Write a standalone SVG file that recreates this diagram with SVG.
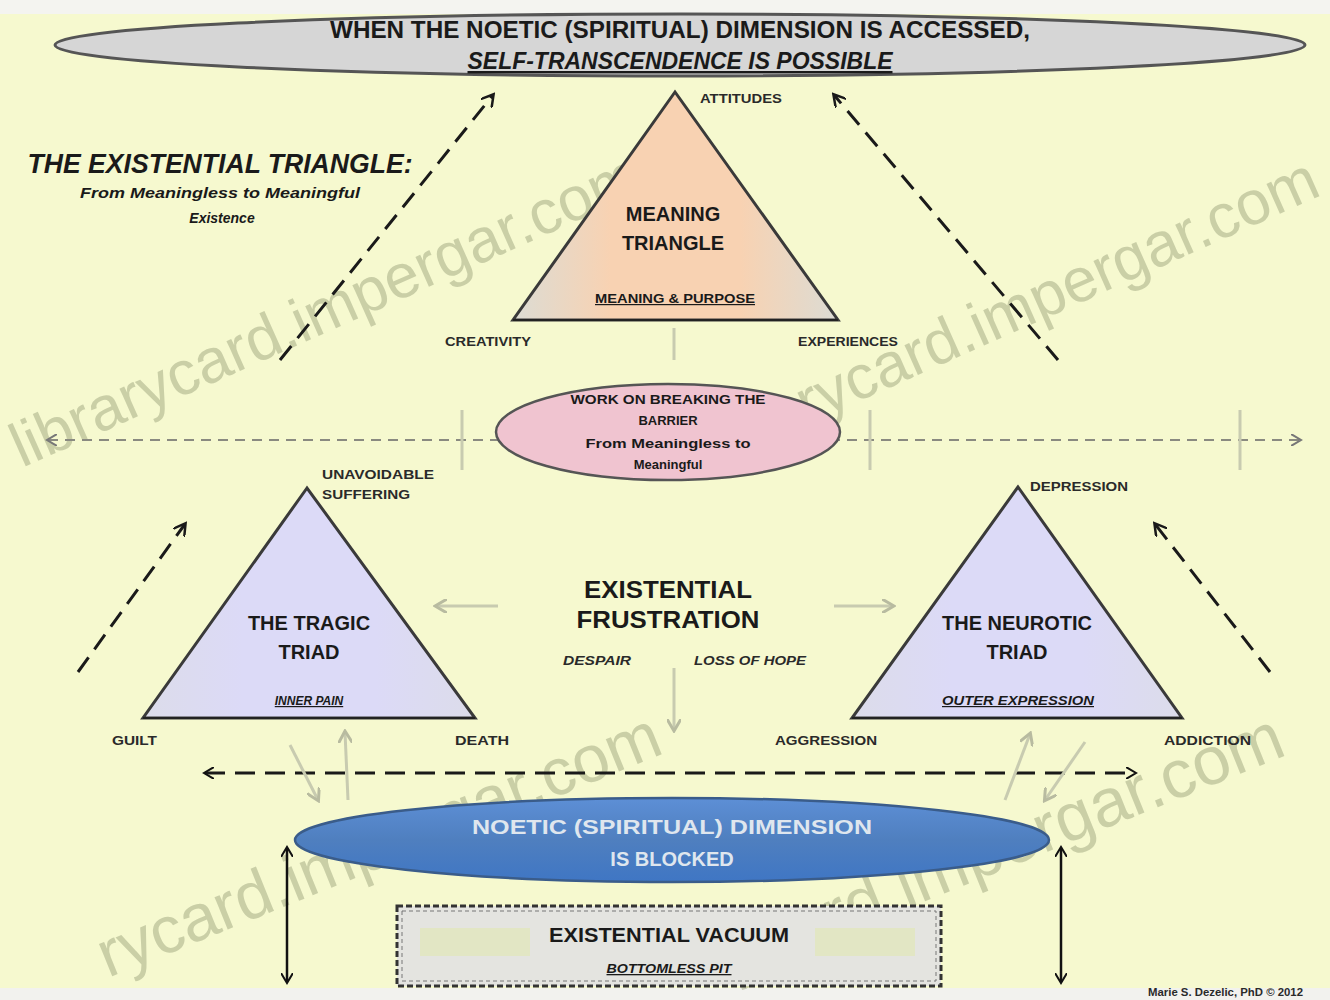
<svg xmlns="http://www.w3.org/2000/svg" width="1330" height="1000" viewBox="0 0 1330 1000">
<style>
.t{font-family:"Liberation Sans Narrow","Liberation Sans",Arial,sans-serif;font-weight:bold;fill:#1a1a1a;text-anchor:middle}
.lab{font-family:"Liberation Sans Narrow","Liberation Sans",Arial,sans-serif;font-weight:bold;font-size:13px;fill:#2a2a2a}
.tri{stroke:#3a3a3a;stroke-width:3;stroke-linejoin:miter}
.dash{stroke:#1a1a1a;stroke-width:3;stroke-dasharray:18 10;fill:none}
.light{stroke:#c8cbb0;stroke-width:3;fill:none}
.wm{font-family:"Liberation Sans",Arial,sans-serif;font-size:62px;fill:#8e9670;opacity:0.42}
</style>
<defs>
<marker id="ahb" markerWidth="14" markerHeight="14" refX="11" refY="7" orient="auto-start-reverse" markerUnits="userSpaceOnUse"><path d="M0,0 L12,7 L0,14" fill="none" stroke="#1a1a1a" stroke-width="2.5"/></marker>
<marker id="ahg" markerWidth="12" markerHeight="12" refX="9" refY="6" orient="auto-start-reverse" markerUnits="userSpaceOnUse"><path d="M0,0 L10,6 L0,12" fill="none" stroke="#777" stroke-width="2"/></marker>
<marker id="ahl" markerWidth="14" markerHeight="14" refX="11" refY="7" orient="auto" markerUnits="userSpaceOnUse"><path d="M0,0 L12,7 L0,14" fill="none" stroke="#b8bba0" stroke-width="3"/></marker>
<marker id="ahk" markerWidth="12" markerHeight="12" refX="9" refY="6" orient="auto-start-reverse" markerUnits="userSpaceOnUse"><path d="M0,0 L10,6 L0,12" fill="none" stroke="#111" stroke-width="2"/></marker>
<linearGradient id="peach" x1="0" y1="0" x2="1" y2="0"><stop offset="0" stop-color="#dcdcd4"/><stop offset="0.3" stop-color="#f8d2b2"/><stop offset="0.7" stop-color="#f8d2b2"/><stop offset="1" stop-color="#dcdcd4"/></linearGradient>
<linearGradient id="lav" x1="0" y1="0" x2="1" y2="0"><stop offset="0" stop-color="#dcdcea"/><stop offset="0.3" stop-color="#dcdaf7"/><stop offset="0.7" stop-color="#dcdaf7"/><stop offset="1" stop-color="#dcdcea"/></linearGradient>
<linearGradient id="blue" x1="0" y1="0" x2="0" y2="1"><stop offset="0" stop-color="#5d8fd6"/><stop offset="0.5" stop-color="#4f7fbf"/><stop offset="1" stop-color="#3f76c4"/></linearGradient>
</defs>
<rect width="1330" height="1000" fill="#f6f9cf"/>
<rect width="1330" height="14" fill="#f4f4f0"/>
<rect y="988" width="1330" height="12" fill="#f2f2ee"/>

<g id="watermarks">
<text class="wm" transform="translate(22,468) rotate(-24)">librarycard.impergar.com</text>
<text class="wm" transform="translate(700,472) rotate(-24)">librarycard.impergar.com</text>
<text class="wm" style="font-size:66px" transform="translate(108,978) rotate(-22)">rycard.impergar.com</text>
<text class="wm" style="font-size:68px" transform="translate(735,978) rotate(-22)">ycard.impergar.com</text>
</g>

<g id="connectors">
<line class="dash" x1="280" y1="360" x2="493" y2="95" marker-end="url(#ahb)"/>
<line class="dash" x1="1058" y1="360" x2="834" y2="95" marker-end="url(#ahb)"/>
<line class="dash" x1="78" y1="672" x2="185" y2="524" marker-end="url(#ahb)"/>
<line class="dash" x1="1270" y1="672" x2="1155" y2="524" marker-end="url(#ahb)"/>
<line x1="48" y1="440" x2="1300" y2="440" stroke="#8a8a80" stroke-width="2" stroke-dasharray="10 7" marker-start="url(#ahg)" marker-end="url(#ahg)"/>
<line x1="205" y1="773" x2="1135" y2="773" stroke="#1a1a1a" stroke-width="3" stroke-dasharray="20 10" marker-start="url(#ahk)" marker-end="url(#ahk)"/>
<line class="light" x1="674" y1="360" x2="674" y2="328"/>
<line class="light" x1="462" y1="470" x2="462" y2="410"/>
<line class="light" x1="870" y1="470" x2="870" y2="410"/>
<line class="light" x1="1240" y1="470" x2="1240" y2="410"/>
<line class="light" x1="498" y1="606" x2="436" y2="606" marker-end="url(#ahl)"/>
<line class="light" x1="834" y1="606" x2="893" y2="606" marker-end="url(#ahl)"/>
<line class="light" x1="674" y1="668" x2="674" y2="730" marker-end="url(#ahl)"/>
<line class="light" x1="290" y1="745" x2="318" y2="800" marker-end="url(#ahl)"/>
<line class="light" x1="348" y1="800" x2="345" y2="732" marker-end="url(#ahl)"/>
<line class="light" x1="1005" y1="800" x2="1030" y2="734" marker-end="url(#ahl)"/>
<line class="light" x1="1085" y1="742" x2="1045" y2="800" marker-end="url(#ahl)"/>
<line x1="287" y1="848" x2="287" y2="982" stroke="#111" stroke-width="2.5" marker-start="url(#ahk)" marker-end="url(#ahk)"/>
<line x1="1061" y1="848" x2="1061" y2="982" stroke="#111" stroke-width="2.5" marker-start="url(#ahk)" marker-end="url(#ahk)"/>
</g>

<g id="top-ellipse">
<ellipse cx="680" cy="45" rx="625" ry="31" fill="#d6d6d6" stroke="#555" stroke-width="3"/>
<text class="t" x="680" y="38" font-size="24" textLength="700" lengthAdjust="spacingAndGlyphs">WHEN THE NOETIC (SPIRITUAL) DIMENSION IS ACCESSED,</text>
<text class="t" x="680" y="69" font-size="24" font-style="italic" text-decoration="underline" textLength="425" lengthAdjust="spacingAndGlyphs">SELF-TRANSCENDENCE IS POSSIBLE</text>
</g>

<g id="title">
<text class="t" x="220" y="173" font-size="27" font-style="italic" textLength="385" lengthAdjust="spacingAndGlyphs">THE EXISTENTIAL TRIANGLE:</text>
<text class="t" x="220" y="198" font-size="14" font-style="italic" textLength="280" lengthAdjust="spacingAndGlyphs">From Meaningless to Meaningful</text>
<text class="t" x="222" y="223" font-size="14" font-style="italic">Existence</text>
</g>

<g id="meaning-triangle">
<polygon class="tri" points="675,92 513,320 838,320" fill="url(#peach)"/>
<line x1="513" y1="320" x2="838" y2="320" stroke="#222" stroke-width="2"/>
<text class="t" x="673" y="221" font-size="20">MEANING</text>
<text class="t" x="673" y="250" font-size="20">TRIANGLE</text>
<text class="t" x="675" y="303" font-size="12" text-decoration="underline" textLength="160" lengthAdjust="spacingAndGlyphs">MEANING &amp; PURPOSE</text>
<text class="lab" x="700" y="103" textLength="82" lengthAdjust="spacingAndGlyphs">ATTITUDES</text>
<text class="lab" x="445" y="346" textLength="86" lengthAdjust="spacingAndGlyphs">CREATIVITY</text>
<text class="lab" x="798" y="346" textLength="100" lengthAdjust="spacingAndGlyphs">EXPERIENCES</text>
</g>

<g id="barrier">
<ellipse cx="668" cy="432" rx="172" ry="48" fill="#f0c4d0" stroke="#555" stroke-width="2.5"/>
<text class="t" x="668" y="404" font-size="13" textLength="195" lengthAdjust="spacingAndGlyphs">WORK ON BREAKING THE</text>
<text class="t" x="668" y="425" font-size="13">BARRIER</text>
<text class="t" x="668" y="448" font-size="13" textLength="165" lengthAdjust="spacingAndGlyphs">From Meaningless to</text>
<text class="t" x="668" y="469" font-size="13">Meaningful</text>
</g>

<g id="tragic-triad">
<polygon class="tri" points="307,488 143,718 475,718" fill="url(#lav)"/>
<line x1="143" y1="718" x2="475" y2="718" stroke="#222" stroke-width="2"/>
<text class="t" x="309" y="630" font-size="20">THE TRAGIC</text>
<text class="t" x="309" y="659" font-size="20">TRIAD</text>
<text class="t" x="309" y="705" font-size="12" font-style="italic" text-decoration="underline">INNER PAIN</text>
<text class="lab" x="322" y="479" textLength="112" lengthAdjust="spacingAndGlyphs">UNAVOIDABLE</text>
<text class="lab" x="322" y="499" textLength="88" lengthAdjust="spacingAndGlyphs">SUFFERING</text>
<text class="lab" x="112" y="745" textLength="45" lengthAdjust="spacingAndGlyphs">GUILT</text>
<text class="lab" x="455" y="745" textLength="54" lengthAdjust="spacingAndGlyphs">DEATH</text>
</g>

<g id="neurotic-triad">
<polygon class="tri" points="1018,487 852,718 1182,718" fill="url(#lav)"/>
<line x1="852" y1="718" x2="1182" y2="718" stroke="#222" stroke-width="2"/>
<text class="t" x="1017" y="630" font-size="20">THE NEUROTIC</text>
<text class="t" x="1017" y="659" font-size="20">TRIAD</text>
<text class="t" x="1018" y="705" font-size="12" font-style="italic" text-decoration="underline" textLength="152" lengthAdjust="spacingAndGlyphs">OUTER EXPRESSION</text>
<text class="lab" x="1030" y="491" textLength="98" lengthAdjust="spacingAndGlyphs">DEPRESSION</text>
<text class="lab" x="775" y="745" textLength="102" lengthAdjust="spacingAndGlyphs">AGGRESSION</text>
<text class="lab" x="1164" y="745" textLength="87" lengthAdjust="spacingAndGlyphs">ADDICTION</text>
</g>

<g id="frustration">
<text class="t" x="668" y="598" font-size="24" font-family="Liberation Sans" textLength="168" lengthAdjust="spacingAndGlyphs">EXISTENTIAL</text>
<text class="t" x="668" y="628" font-size="24" font-family="Liberation Sans" textLength="183" lengthAdjust="spacingAndGlyphs">FRUSTRATION</text>
<text class="lab" x="563" y="665" font-style="italic" textLength="68" lengthAdjust="spacingAndGlyphs">DESPAIR</text>
<text class="lab" x="694" y="665" font-style="italic" textLength="112" lengthAdjust="spacingAndGlyphs">LOSS OF HOPE</text>
</g>

<g id="blocked">
<ellipse cx="672" cy="840" rx="377" ry="42" fill="url(#blue)" stroke="#3a5c8a" stroke-width="2.5"/>
<text class="t" x="672" y="834" font-size="20" style="fill:#dfe6ee" textLength="400" lengthAdjust="spacingAndGlyphs">NOETIC (SPIRITUAL) DIMENSION</text>
<text class="t" x="672" y="866" font-size="20" style="fill:#dfe6ee">IS BLOCKED</text>
</g>

<g id="vacuum">
<rect x="397" y="906" width="544" height="80" fill="#e4e4e0" stroke="#333" stroke-width="3" stroke-dasharray="6 3"/>
<rect x="402" y="911" width="534" height="70" fill="none" stroke="#777" stroke-width="1" stroke-dasharray="4 3"/>
<rect x="420" y="928" width="110" height="28" fill="#e2e6c4"/>
<rect x="815" y="928" width="100" height="28" fill="#e2e6c4"/>
<text class="t" x="669" y="942" font-size="21" textLength="240" lengthAdjust="spacingAndGlyphs">EXISTENTIAL VACUUM</text>
<text class="t" x="669" y="973" font-size="13" font-style="italic" text-decoration="underline" textLength="125" lengthAdjust="spacingAndGlyphs">BOTTOMLESS PIT</text>
</g>

<text class="lab" x="1148" y="996" style="font-size:10px" textLength="155" lengthAdjust="spacingAndGlyphs">Marie S. Dezelic, PhD © 2012</text>
</svg>
